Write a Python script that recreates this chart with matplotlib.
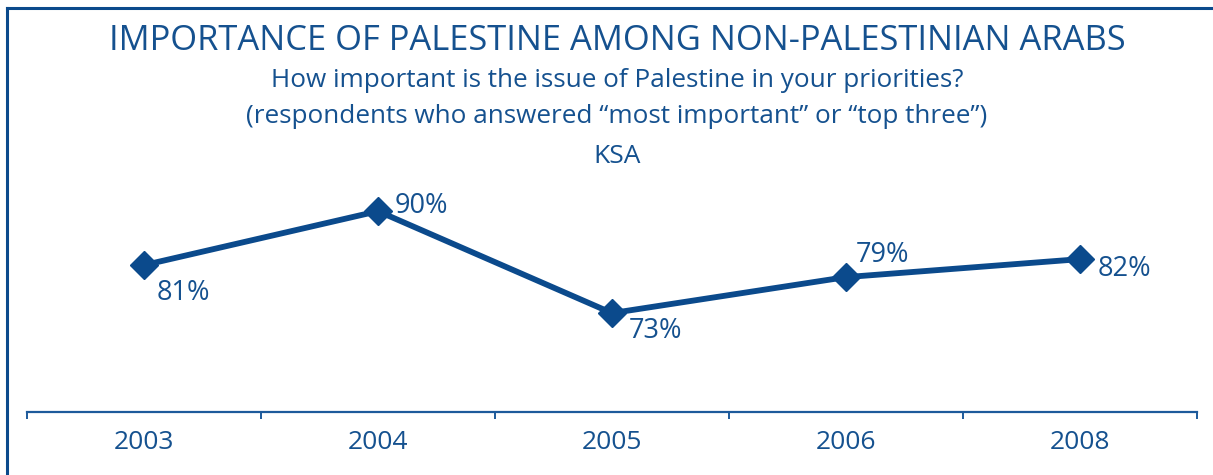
import matplotlib.pyplot as plt
from matplotlib.lines import Line2D

years = ["2003", "2004", "2005", "2006", "2008"]
share = [81, 90, 73, 79, 82]
labels = ["81%", "90%", "73%", "79%", "82%"]

# label offsets in points (dx, dy) from each point
offsets = [(9, -20), (12, 4), (12, -13), (7, 16), (13, -7)]

BLUE = "#0b4a8c"
TEXT = "#15518f"

plt.rcParams["font.family"] = ["Open Sans", "DejaVu Sans"]

W, H = 1213, 475
fig = plt.figure(figsize=(W / 100, H / 100), dpi=100)

# frame on left, top and right
def px(x, y):
    return x / W, 1 - y / H

for (x0, y0), (x1, y1) in [((7, 475), (7, 8)), ((7, 8), (1213, 8))]:
    a, b = px(x0, y0)
    c, d = px(x1, y1)
    fig.add_artist(Line2D([a, c], [b, d], color=BLUE, lw=2.2, transform=fig.transFigure))

fig.text(617 / W, 1 - 50 / H, "IMPORTANCE OF PALESTINE AMONG NON-PALESTINIAN ARABS",
         ha="center", va="baseline", fontsize=24.8, color=TEXT)
fig.text(617 / W, 1 - 87 / H, "How important is the issue of Palestine in your priorities?",
         ha="center", va="baseline", fontsize=18.8, color=TEXT)
fig.text(617 / W, 1 - 123 / H, "(respondents who answered \u201cmost important\u201d or \u201ctop three\u201d)",
         ha="center", va="baseline", fontsize=18.8, color=TEXT)
fig.text(617 / W, 1 - 163 / H, "KSA", ha="center", va="baseline", fontsize=19, color=TEXT)

left, right = 27 / W, 1197 / W
bottom, top = 1 - 412 / H, 1 - 180 / H
ax = fig.add_axes([left, bottom, right - left, top - bottom])

x = list(range(len(years)))
ax.plot(x, share, color=BLUE, lw=4.2, marker="D", markersize=14.5, zorder=3)

for xi, v, lab, (dx, dy) in zip(x, share, labels, offsets):
    ax.annotate(lab, (xi, v), xytext=(dx, dy), textcoords="offset points",
                ha="left", va="center", fontsize=19.5, color=TEXT)

ax.set_xlim(-0.5, len(years) - 0.5)
ax.set_ylim(56.5, 95.2)

for s in ["top", "right", "left"]:
    ax.spines[s].set_visible(False)
ax.spines["bottom"].set_color("#1d5a9b")
ax.spines["bottom"].set_linewidth(1.6)

ax.set_yticks([])
ax.set_xticks(x)
ax.set_xticklabels(years, fontsize=19, color=TEXT)
ax.tick_params(axis="x", which="major", length=0, pad=13)
ax.set_xticks([i - 0.5 for i in range(len(years) + 1)], minor=True)
ax.tick_params(axis="x", which="minor", direction="out", length=5, width=1.4, color="#1d5a9b")

fig.savefig("out.png", dpi=100)
